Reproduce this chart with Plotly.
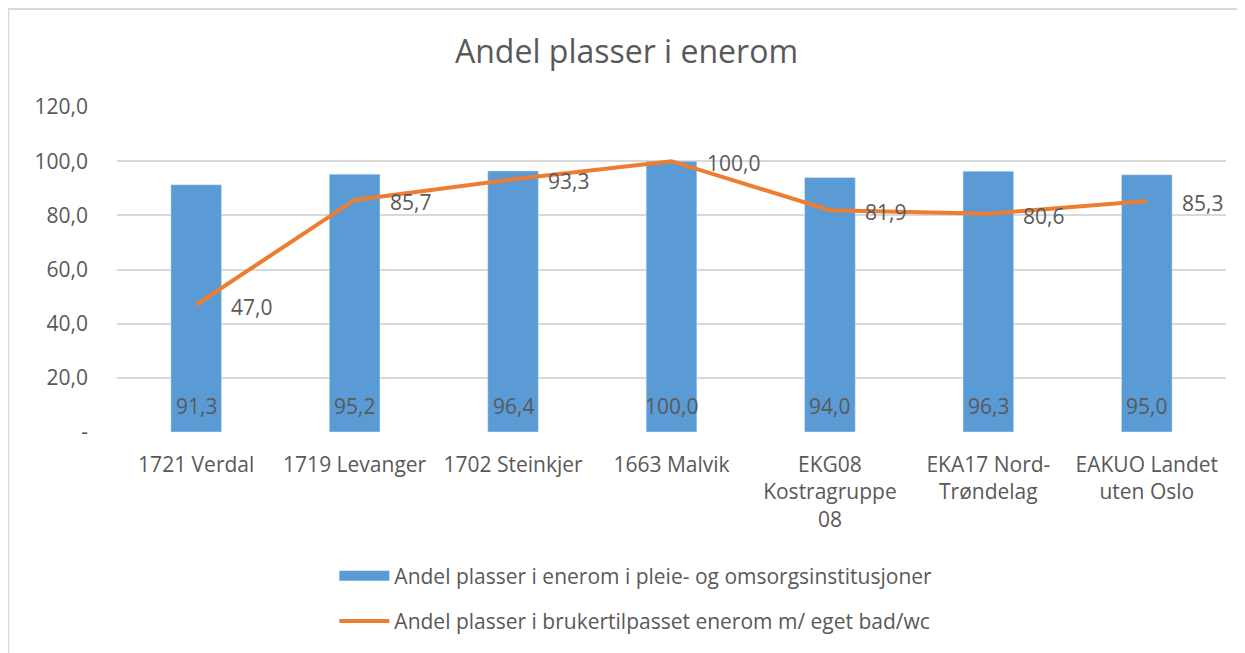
import plotly.graph_objects as go

categories = ["1721 Verdal", "1719 Levanger", "1702 Steinkjer", "1663 Malvik",
              "EKG08<br>Kostragruppe<br>08", "EKA17 Nord-<br>Trøndelag", "EAKUO Landet<br>uten Oslo"]
enerom = [91.3, 95.2, 96.4, 100.0, 94.0, 96.3, 95.0]
bad_wc = [47.0, 85.7, 93.3, 100.0, 81.9, 80.6, 85.3]
y_ticks = [0, 20, 40, 60, 80, 100, 120]
y_ticktext = ["-", "20,0", "40,0", "60,0", "80,0", "100,0", "120,0"]

name_bar = "Andel plasser i enerom i pleie- og omsorgsinstitusjoner"
name_line = "Andel plasser i brukertilpasset enerom m/ eget bad/wc"

grey = "#595959"
blue = "#5B9BD5"
orange = "#ED7D31"
fnt = "'Open Sans', sans-serif"

def fmt(v):
    return f"{v:.1f}".replace(".", ",")

fig = go.Figure()
fig.add_trace(go.Bar(x=categories, y=enerom, name=name_bar, marker_color=blue,
                     showlegend=False))
# legend-only entry so the bar key is a wide block like in Excel
fig.add_trace(go.Scatter(x=[None], y=[None], name=name_bar, mode="lines",
                         line=dict(color=blue, width=10), legendgroup="a"))
fig.add_trace(go.Scatter(x=categories, y=bad_wc, name=name_line, mode="lines",
                         line=dict(color=orange, width=4), legendgroup="b"))

annotations = []
for c, v in zip(categories, enerom):
    annotations.append(dict(x=c, y=0, text=fmt(v), showarrow=False, yanchor="middle",
                            yshift=26, font=dict(size=21, color=grey, family=fnt)))
for c, v in zip(categories, bad_wc):
    annotations.append(dict(x=c, y=v, text=fmt(v), showarrow=False, xanchor="left",
                            yanchor="middle", xshift=33, yshift=-2,
                            font=dict(size=21, color=grey, family=fnt)))

# page body has an 8px margin, so the figure is sized and placed to compensate
fig.update_layout(
    width=1237, height=645,
    paper_bgcolor="white", plot_bgcolor="white",
    font=dict(family=fnt, color=grey, size=21),
    title=dict(text="Andel plasser i enerom", x=0.5, xanchor="center", y=0.932,
               yanchor="middle", font=dict(size=32, color=grey, family=fnt)),
    margin=dict(l=109, r=19, t=99, b=221),
    bargap=0.68,
    showlegend=True,
    legend=dict(orientation="v", x=0.196, xanchor="left", y=-0.38, yanchor="top",
                traceorder="grouped", tracegroupgap=15, font=dict(size=21, color=grey),
                itemwidth=50),
    annotations=annotations,
    shapes=[dict(type="rect", xref="paper", yref="paper", x0=-0.0981, x1=1.2, y0=-1.0, y1=1.3015,
                 line=dict(color="#d9d9d9", width=2), fillcolor="rgba(0,0,0,0)", layer="below")],
)
fig.update_xaxes(showgrid=False, zeroline=False, showline=False, ticks="",
                 ticklabelstandoff=18, tickfont=dict(size=21, color=grey))
fig.update_yaxes(range=[0, 120], tickvals=y_ticks, ticktext=y_ticktext,
                 showgrid=True, gridcolor="#d9d9d9", gridwidth=1.5, zeroline=False,
                 showline=False, ticks="", ticklabelstandoff=28,
                 tickfont=dict(size=21, color=grey))
fig.write_html("out.html")
